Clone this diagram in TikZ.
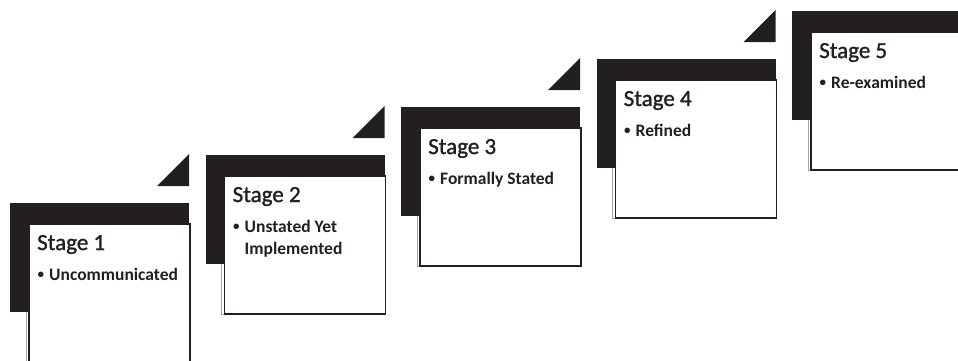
\documentclass[tikz,border=0pt]{standalone}
\usepackage{fontspec}
\setmainfont{Carlito}
\newfontfamily\ttlfont[FakeBold=1.2]{Carlito}
\definecolor{blk}{HTML}{231F20}
\begin{document}
\begin{tikzpicture}[x=1pt,y=-1pt,
  band/.style={fill=blk},
  corner/.style={fill=blk},
  card/.style={draw=blk, line width=1.6pt, fill=white, minimum width=161pt, minimum height=138pt, anchor=north west, inner sep=0pt},
  shadowline/.style={draw=black!35, line width=1pt},
  ttl/.style={font=\ttlfont\fontsize{23}{27}\selectfont, text=blk, anchor=base west, inner sep=0pt},
  dot/.style={font=\bfseries\fontsize{13}{15}\selectfont, text=blk, anchor=base west, inner sep=0pt},
  bul/.style={font=\bfseries\fontsize{17.5}{22}\selectfont, text=blk, anchor=base west, inner sep=0pt}]
\clip (0,0) rectangle (958,360);
% Stage 1
\begin{scope}[shift={(0,0)}]
  \fill[corner] (157,186) -- (189,186) -- (189,154) -- cycle;
  \fill[band] (10,203) rectangle (189,312);
  \draw[shadowline] (26.3,312) -- (26.3,362) -- (187,362);
  \node[card] (c1) at (28,223) {};
  \node[ttl] (t1) at (37,250) {Stage 1};
  \node[dot] (d1) at (37.5,278.5) {•};
  \node[bul] (a1) at (49,280) {Uncommunicated};
\end{scope}
% Stage 2
\begin{scope}[shift={(195.5,-48)}]
  \fill[corner] (157,186) -- (189,186) -- (189,154) -- cycle;
  \fill[band] (10,203) rectangle (189,312);
  \draw[shadowline] (26.3,312) -- (26.3,362) -- (187,362);
  \node[card] (c2) at (28,223) {};
  \node[ttl] (t2) at (37,250) {Stage 2};
  \node[dot] (d2) at (37.5,278.5) {•};
  \node[bul] (a2) at (49,280) {Unstated Yet};
  \node[bul] (b2) at (49,302) {Implemented};
\end{scope}
% Stage 3
\begin{scope}[shift={(391,-96)}]
  \fill[corner] (157,186) -- (189,186) -- (189,154) -- cycle;
  \fill[band] (10,203) rectangle (189,312);
  \draw[shadowline] (26.3,312) -- (26.3,362) -- (187,362);
  \node[card] (c3) at (28,223) {};
  \node[ttl] (t3) at (37,250) {Stage 3};
  \node[dot] (d3) at (37.5,278.5) {•};
  \node[bul] (a3) at (49,280) {Formally Stated};
\end{scope}
% Stage 4
\begin{scope}[shift={(586.5,-144)}]
  \fill[corner] (157,186) -- (189,186) -- (189,154) -- cycle;
  \fill[band] (10,203) rectangle (189,312);
  \draw[shadowline] (26.3,312) -- (26.3,362) -- (187,362);
  \node[card] (c4) at (28,223) {};
  \node[ttl] (t4) at (37,250) {Stage 4};
  \node[dot] (d4) at (37.5,278.5) {•};
  \node[bul] (a4) at (49,280) {Refined};
\end{scope}
% Stage 5
\begin{scope}[shift={(782,-192)}]
  \fill[corner] (157,186) -- (189,186) -- (189,154) -- cycle;
  \fill[band] (10,203) rectangle (189,312);
  \draw[shadowline] (26.3,312) -- (26.3,362) -- (187,362);
  \node[card] (c5) at (28,223) {};
  \node[ttl] (t5) at (37,250) {Stage 5};
  \node[dot] (d5) at (37.5,278.5) {•};
  \node[bul] (a5) at (49,280) {Re-examined};
\end{scope}
\end{tikzpicture}
\end{document}
